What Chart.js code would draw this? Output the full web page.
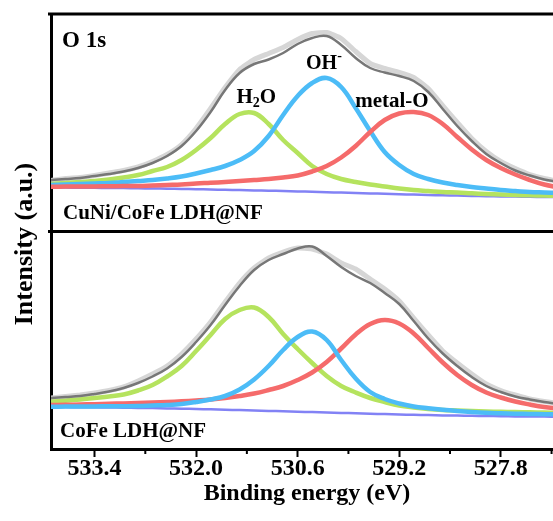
<!DOCTYPE html>
<html>
<head>
<meta charset="utf-8">
<script src="https://cdn.jsdelivr.net/npm/chart.js@4.4.1/dist/chart.umd.min.js"></script>
<style>
  html, body { margin: 0; padding: 0; background: #fff; }
  #wrap { width: 553px; height: 521px; }
</style>
</head>
<body>
<div id="wrap"><canvas id="xps"></canvas></div>
<script>
// binding energy grid (eV)
const energy = [534.0, 533.8, 533.6, 533.4, 533.2, 533.0, 532.8, 532.6, 532.4, 532.2,
  532.0, 531.8, 531.6, 531.4, 531.2, 531.0, 530.8, 530.6, 530.4, 530.2,
  530.0, 529.8, 529.6, 529.4, 529.2, 529.0, 528.8, 528.6, 528.4, 528.2,
  528.0, 527.8, 527.6, 527.4, 527.2, 527.0];

// CuNi/CoFe LDH@NF
const topRaw = [51, 53, 54, 56, 58.5, 61, 64.5, 70, 77, 87,
  103, 123, 144, 162, 172, 178, 184, 192, 198, 199,
  193, 180, 168, 163, 159, 154, 143, 126, 109, 93,
  80, 70, 63, 57, 53, 50];
const topFit = [51.5, 52.5, 53.5, 55.5, 57.5, 60, 63.5, 68.5, 75.5, 85.5,
  100.5, 119.5, 141.5, 158.5, 167.5, 172, 178.5, 187.5, 193.5, 195.5,
  186.5, 173.5, 163.5, 159, 155.5, 150.5, 139.5, 122.5, 105.5, 90.5,
  77.5, 68.5, 61, 56, 52, 49.5];
const topH2O = [47.5, 48.5, 49.5, 50.5, 52, 54, 56.5, 60.5, 64.5, 71.5,
  81.5, 93.5, 107.5, 117.5, 118.5, 107.5, 91.5, 78.5, 65.5, 57.5,
  52.5, 49.5, 47, 45, 43, 41.5, 40.5, 39.5, 39, 38.2,
  37.5, 37, 36.5, 36.2, 35.9, 35.5];
const topOH = [46.5, 47, 47.5, 48, 48.5, 49.5, 50.5, 51.5, 53, 55,
  58, 61.5, 65.5, 71.5, 80.5, 95.5, 116.5, 135.5, 148.5, 153.5,
  144.5, 123.5, 100.5, 79.5, 66.5, 57.5, 52.5, 49, 46.5, 44.5,
  43, 41.5, 40.5, 39.5, 39, 38.5];
const topMetalO = [44.8, 44.9, 45, 45.1, 45.2, 45.4, 45.5, 46, 46.5, 47,
  48, 48.7, 49.5, 50.5, 51.5, 52.5, 54, 56, 60, 65.5,
  74, 85.5, 99.5, 111.5, 118, 119.5, 116.5, 107.5, 94.5, 82,
  71.5, 63.5, 57, 51.5, 47, 44];
const topBg = [44, 43.9, 43.8, 43.7, 43.5, 43.4, 43.2, 43, 42.8, 42.5,
  42.3, 42, 41.7, 41.4, 41.1, 40.8, 40.5, 40.1, 39.7, 39.3,
  38.9, 38.5, 38.1, 37.7, 37.3, 36.9, 36.5, 36.2, 35.9, 35.6,
  35.3, 35.1, 34.9, 34.7, 34.5, 34.4];

// CoFe LDH@NF
const botRaw = [51, 52.5, 54, 56, 58.5, 62, 68, 75, 83, 95,
  110, 127, 147, 166, 181, 191, 197, 201, 200, 195,
  186, 180, 170, 160, 148, 131, 114, 98, 86, 75,
  65, 58.5, 54, 50, 47.5, 45.5];
const botFit = [51, 52, 53, 55, 57.5, 61, 66, 72.5, 80.5, 92,
  107, 124, 144, 163, 179, 189, 195, 200.5, 202.5, 193,
  182, 173, 166, 156, 145, 128, 110.5, 95.5, 83, 72,
  63, 57, 52.5, 49.5, 47, 45];
const botH2O = [47.3, 48.3, 49.5, 51, 52.5, 54.5, 58.5, 64, 72.5, 83,
  98, 114, 130, 139, 141.5, 132, 115, 100, 86, 73,
  63, 56.5, 51, 47, 43.5, 41.5, 40, 39, 38.5, 38,
  37.5, 37.2, 37, 36.7, 36.4, 36.2];
const botOH = [42.3, 42.4, 42.5, 42.6, 42.7, 42.8, 43, 43.5, 44, 45,
  47, 49.5, 53, 59.5, 69.5, 83, 99, 112, 117.5, 109,
  89, 70.5, 57, 50, 45.5, 42.5, 40.7, 39.2, 38, 37,
  36.2, 35.7, 35.3, 35, 34.8, 34.6];
const botMetalO = [44, 44.2, 44.5, 44.8, 45.2, 45.6, 46, 46.5, 47, 47.7,
  48.5, 49.5, 51, 53, 55.5, 59, 63, 69, 76.5, 87,
  100.5, 114.5, 125, 129, 125.5, 115.5, 101, 86.5, 74, 64,
  56.5, 51.5, 47.5, 44.5, 42, 40.5];
const botBg = [42, 41.9, 41.8, 41.7, 41.5, 41.3, 41.1, 40.9, 40.6, 40.3,
  40, 39.7, 39.3, 38.9, 38.5, 38.1, 37.7, 37.3, 36.9, 36.5,
  36.1, 35.7, 35.3, 34.9, 34.5, 34.2, 33.9, 33.6, 33.4, 33.2,
  33, 32.8, 32.6, 32.5, 32.4, 32.3];

const majorTicks = [533.4, 532.0, 530.6, 529.2, 527.8];
const minorTicks = [532.7, 531.3, 529.9, 528.5, 527.1];

const SERIF = "'Liberation Serif', 'Times New Roman', serif";
const C = {
  raw: '#d6d6d6', fit: '#777777', h2o: '#b5e35e', oh: '#4cbcf7',
  metal: '#f56b6b', bg: '#8282f5'
};

function pts(arr) {
  return energy.map((e, i) => ({ x: e, y: arr[i] }));
}
function line(arr, axis, color, width, tension) {
  return {
    data: pts(arr), yAxisID: axis, borderColor: color, borderWidth: width,
    pointRadius: 0, fill: false, tension: tension === undefined ? 0.4 : tension
  };
}

const datasets = [
  line(topFit, 'yTop', C.fit, 2.5),
  line(topMetalO, 'yTop', C.metal, 4.5),
  line(topOH, 'yTop', C.oh, 4.5),
  line(topH2O, 'yTop', C.h2o, 4.5),
  line(topBg, 'yTop', C.bg, 2.5),
  line(topRaw, 'yTop', C.raw, 5, 0.15),
  line(botFit, 'yBot', C.fit, 2.5),
  line(botOH, 'yBot', C.oh, 4.5),
  line(botMetalO, 'yBot', C.metal, 4.5),
  line(botH2O, 'yBot', C.h2o, 4.5),
  line(botBg, 'yBot', C.bg, 2.5),
  line(botRaw, 'yBot', C.raw, 5, 0.15)
];

const frame = {
  id: 'frame',
  afterDraw(chart) {
    const { ctx, chartArea: a, scales } = chart;
    const x = scales.x;
    ctx.save();
    ctx.strokeStyle = '#000';
    ctx.lineWidth = 3;
    ctx.beginPath();
    ctx.moveTo(a.left - 3, a.top);
    ctx.lineTo(a.right, a.top);
    const mid = scales.yTop.bottom;
    ctx.moveTo(a.left - 3, mid);
    ctx.lineTo(a.right, mid);
    ctx.stroke();
    // minor ticks
    ctx.lineWidth = 2;
    ctx.beginPath();
    minorTicks.forEach(v => {
      const px = x.getPixelForValue(v);
      ctx.moveTo(px, a.bottom);
      ctx.lineTo(px, a.bottom + 5);
    });
    ctx.stroke();

    ctx.fillStyle = '#000';
    ctx.textBaseline = 'alphabetic';
    ctx.textAlign = 'left';
    ctx.font = 'bold 23px ' + SERIF;
    ctx.fillText('O 1s', a.left + 11, a.top + 33);
    ctx.font = 'bold 21px ' + SERIF;
    ctx.fillText('CuNi/CoFe LDH@NF', a.left + 12, mid - 13);
    ctx.fillText('CoFe LDH@NF', a.left + 9, a.bottom - 12);

    // peak labels
    const yT = scales.yTop;
    ctx.font = 'bold 21px ' + SERIF;
    let cx = x.getPixelForValue(531.17), by = yT.getPixelForValue(129);
    const wH = ctx.measureText('H').width, wO = ctx.measureText('O').width;
    ctx.font = 'bold 14px ' + SERIF;
    const w2 = ctx.measureText('2').width;
    let sx = cx - (wH + w2 + wO) / 2;
    ctx.font = 'bold 21px ' + SERIF;
    ctx.fillText('H', sx, by);
    ctx.fillText('O', sx + wH + w2, by);
    ctx.font = 'bold 14px ' + SERIF;
    ctx.fillText('2', sx + wH, by + 4);

    ctx.font = 'bold 20px ' + SERIF;
    cx = x.getPixelForValue(530.27); by = yT.getPixelForValue(162.5);
    const wOH = ctx.measureText('OH').width;
    ctx.fillText('OH', cx - wOH / 2, by);
    ctx.font = 'bold 14px ' + SERIF;
    ctx.fillText('-', cx + wOH / 2, by - 9);

    ctx.font = 'bold 21px ' + SERIF;
    cx = x.getPixelForValue(529.30); by = yT.getPixelForValue(125);
    ctx.textAlign = 'center';
    ctx.fillText('metal-O', cx, by);

    // axis titles
    ctx.font = 'bold 24px ' + SERIF;
    ctx.fillText('Binding energy (eV)', 307, 500);
    ctx.font = 'bold 26px ' + SERIF;
    ctx.translate(32, 244);
    ctx.rotate(-Math.PI / 2);
    ctx.fillText('Intensity (a.u.)', 0, 0);
    ctx.restore();
  }
};

const panelAxis = (weight) => ({
  type: 'linear', min: 0, max: 217.5, stack: 'panels', stackWeight: 1,
  weight: weight, position: 'left',
  ticks: { display: false }, grid: { display: false },
  border: { display: true, width: 3, color: '#000' },
  afterFit: s => { s.width = 51; }
});

new Chart(document.getElementById('xps'), {
  type: 'line',
  data: { datasets: datasets },
  options: {
    responsive: true, maintainAspectRatio: false, animation: false,
    layout: { padding: { top: 14, right: 0, left: 0, bottom: 0 } },
    plugins: { legend: { display: false }, tooltip: { enabled: false } },
    scales: {
      x: {
        type: 'linear', reverse: true, min: 527.08, max: 534.0,
        afterBuildTicks: s => { s.ticks = majorTicks.map(v => ({ value: v })); },
        afterFit: s => { s.height = 72; },
        ticks: {
          color: '#000', padding: -3, maxRotation: 0,
          font: { family: SERIF, size: 24, weight: 'bold' },
          callback: v => v.toFixed(1)
        },
        grid: { drawOnChartArea: false, drawTicks: true, tickLength: 8, tickWidth: 2, tickColor: '#000' },
        border: { display: true, width: 3, color: '#000' }
      },
      yTop: panelAxis(2),
      yBot: panelAxis(1)
    }
  },
  plugins: [frame]
});
</script>
</body>
</html>
